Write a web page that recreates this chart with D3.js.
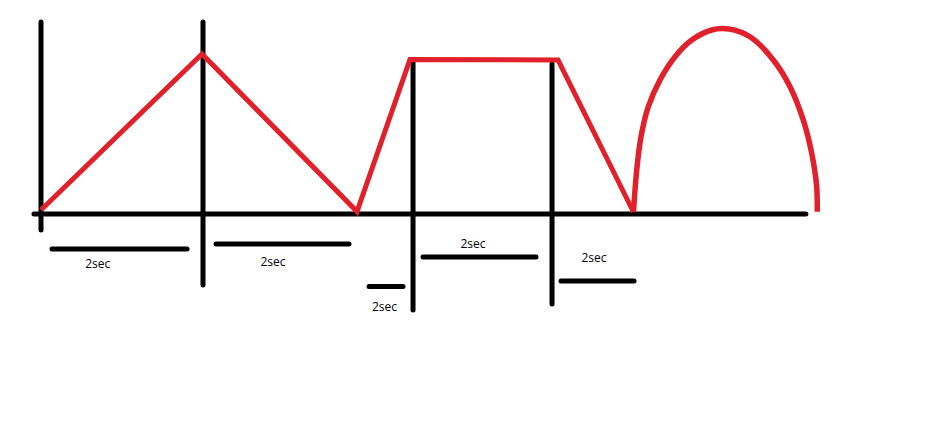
<!DOCTYPE html>
<html>
<head>
<meta charset="utf-8">
<script src="https://cdn.jsdelivr.net/npm/d3@7"></script>
<style>
  html, body { margin: 0; padding: 0; background: #ffffff; }
  svg { display: block; }
</style>
</head>
<body>
<div id="chart"></div>
<script>
// ---- data (time units along x, signal/label units along y) ----
// red signal: ramp up, ramp down, ramp up, hold, ramp down
const signalT = [0, 2.072, 4.067, 4.749, 6.654, 7.625];
const signalV = [0.21, 8.56, 0.13, 8.26, 8.24, 0.107];
// red arc (read points)
const arcT = [7.625, 7.667, 7.722, 7.816, 7.967, 8.160, 8.375, 8.632, 8.855, 9.125, 9.425, 9.64, 9.81, 9.919, 9.983, 9.991];
const arcV = [0.107, 2.35, 4.13, 5.74, 7.17, 8.41, 9.30, 9.84, 9.89, 9.48, 8.24, 6.81, 5.03, 3.25, 1.46, 0.12];
// time axis extent
const axisStart = -0.116;
const axisEnd = 9.87;
// vertical marker lines
const markerT = [0, 2.085, 4.788, 6.577];
const markerTop = [10.37, 10.37, 8.34, 8.13];
const markerBottom = [-0.96, -3.9, -5.24, -4.92];
// duration bars
const barStart = [0.116, 2.227, 4.196, 4.891, 6.667];
const barEnd = [1.905, 3.99, 4.685, 6.396, 7.658];
const barLevel = [-1.87, -1.6, -3.88, -2.3, -3.58];
// duration labels
const labelText = ["2sec", "2sec", "2sec", "2sec", "2sec"];
const labelT = [0.73, 2.986, 4.421, 5.56, 7.117];
const labelV = [-2.9, -2.78, -5.17, -1.82, -2.57];

// ---- drawing ----
const W = 936, H = 448;
const svg = d3.select("#chart").append("svg").attr("width", W).attr("height", H);

const x = d3.scaleLinear().domain([0, 10]).range([41, 818]);
const y = d3.scaleLinear().domain([0, 10]).range([214, 27]);

const black = "#000000";
const red = "#e0202a";

// time axis
svg.append("line")
  .attr("x1", x(axisStart) + 2).attr("x2", x(axisEnd) - 2)
  .attr("y1", y(0)).attr("y2", y(0))
  .attr("stroke", black).attr("stroke-width", 5).attr("stroke-linecap", "round");

// markers
svg.selectAll("line.marker").data(markerT).enter().append("line")
  .attr("class", "marker")
  .attr("x1", d => x(d)).attr("x2", d => x(d))
  .attr("y1", (d, i) => y(markerTop[i]) + 2)
  .attr("y2", (d, i) => y(markerBottom[i]) - 2)
  .attr("stroke", black).attr("stroke-width", 5).attr("stroke-linecap", "round");

// bars
svg.selectAll("line.bar").data(barStart).enter().append("line")
  .attr("class", "bar")
  .attr("x1", d => x(d) + 2)
  .attr("x2", (d, i) => x(barEnd[i]) - 2)
  .attr("y1", (d, i) => y(barLevel[i]))
  .attr("y2", (d, i) => y(barLevel[i]))
  .attr("stroke", black).attr("stroke-width", 5).attr("stroke-linecap", "round");

// labels
svg.selectAll("text.lab").data(labelText).enter().append("text")
  .attr("class", "lab")
  .attr("x", (d, i) => x(labelT[i]))
  .attr("y", (d, i) => y(labelV[i]))
  .attr("text-anchor", "middle")
  .attr("font-family", "'Open Sans', 'DejaVu Sans', sans-serif")
  .attr("font-size", 12)
  .attr("fill", black)
  .text(d => d);

// red signal
const lineGen = d3.line().x(d => x(d[0])).y(d => y(d[1]));
svg.append("path")
  .datum(signalT.map((t, i) => [t, signalV[i]]))
  .attr("d", lineGen)
  .attr("fill", "none").attr("stroke", red).attr("stroke-width", 5)
  .attr("stroke-linejoin", "miter");

const arcGen = d3.line().x(d => x(d[0])).y(d => y(d[1])).curve(d3.curveCatmullRom.alpha(0.5));
svg.append("path")
  .datum(arcT.map((t, i) => [t, arcV[i]]))
  .attr("d", arcGen)
  .attr("fill", "none").attr("stroke", red).attr("stroke-width", 5.5);
</script>
</body>
</html>
